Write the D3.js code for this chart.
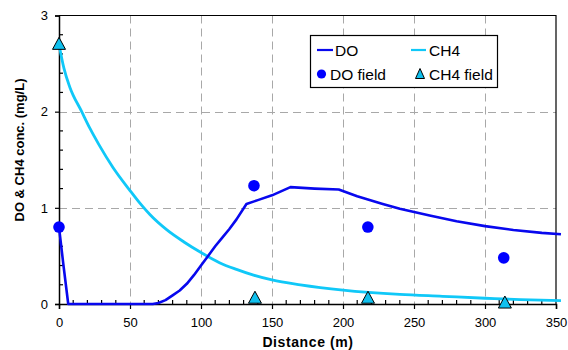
<!DOCTYPE html>
<html><head><meta charset="utf-8">
<script src="https://cdn.jsdelivr.net/npm/d3@7"></script>
<style>
html,body{margin:0;padding:0;background:#fff;}
svg{display:block;font-family:"Liberation Sans",Arial,sans-serif;}
</style></head>
<body>
<svg id="chart" width="568" height="350"></svg>
<script>
// ---- data ----
const doDist  = [0, 3, 6.5, 20, 40, 60, 66, 70, 75, 80, 85, 90, 95, 100, 105, 110, 115, 120, 125, 132, 140, 150, 163, 180, 197, 210, 228, 240, 261, 280, 300, 320, 340, 353.5];
const doConc  = [0.8, 0.42, 0, 0, 0, 0, 0, 0.01, 0.04, 0.09, 0.14, 0.21, 0.3, 0.4, 0.5, 0.6, 0.69, 0.78, 0.88, 1.04, 1.08, 1.13, 1.215, 1.2, 1.19, 1.12, 1.04, 0.99, 0.92, 0.86, 0.81, 0.77, 0.74, 0.725];
const ch4Dist = [0, 3.5, 7.5, 16, 22, 28, 38, 50, 58, 64, 76, 88, 100, 113, 125, 137, 150, 170, 200, 240, 270, 300, 325, 353.5];
const ch4Conc = [2.7, 2.45, 2.26, 2.0, 1.82, 1.66, 1.42, 1.18, 1.03, 0.93, 0.77, 0.645, 0.535, 0.43, 0.36, 0.3, 0.25, 0.2, 0.145, 0.1, 0.08, 0.06, 0.045, 0.035];
const doFieldDist  = [0, 137.3, 217.5, 313.2];
const doFieldConc  = [0.8, 1.23, 0.8, 0.48];
const ch4FieldDist = [0, 138, 217.6, 314];
const ch4FieldConc = [2.7, 0.06, 0.06, 0.01];
const xTicks = [0, 50, 100, 150, 200, 250, 300, 350];
const yTicks = [0, 1, 2, 3];
const legendLabels = ["DO", "CH4", "DO field", "CH4 field"];

const doColor = "#0808ee", ch4Color = "#10c8f8", triFill = "#10c0ee";

const svg = d3.select("#chart");
const x = d3.scaleLinear().domain([0, 350]).range([59, 556]);
const y = d3.scaleLinear().domain([0, 3]).range([304, 15.5]);

// gridlines
const grid = svg.append("g").attr("stroke", "#a8a8a8").attr("stroke-width", 1).attr("stroke-dasharray", "8,5");
grid.selectAll(".vx").data(xTicks.filter(v => v > 0 && v < 350)).join("line")
  .attr("x1", d => Math.round(x(d)) + 0.5).attr("x2", d => Math.round(x(d)) + 0.5)
  .attr("y1", y(3)).attr("y2", y(0));
grid.selectAll(".hy").data(yTicks.filter(v => v > 0 && v < 3)).join("line")
  .attr("y1", d => Math.round(y(d)) + 0.5).attr("y2", d => Math.round(y(d)) + 0.5)
  .attr("x1", x(0)).attr("x2", x(350));

// frame top & right
svg.append("path").attr("fill", "none").attr("stroke", "#000").attr("stroke-width", 1.2)
  .attr("d", `M${x(0)},${y(3)}H${x(350)}V${y(0)}`);

// axes
const xAxis = d3.axisBottom(x).tickValues(xTicks).tickSize(5).tickPadding(9).tickFormat(d3.format("d"));
const gx = svg.append("g").attr("transform", `translate(0,${y(0)})`).call(xAxis);
const yAxis = d3.axisLeft(y).tickValues(yTicks).tickSize(4).tickPadding(7).tickFormat(d3.format("d"));
const gy = svg.append("g").attr("transform", `translate(${x(0)},0)`).call(yAxis);
[gx, gy].forEach(g => {
  g.select(".domain").attr("stroke", "#000").attr("stroke-width", 1.5);
  g.selectAll(".tick line").attr("stroke", "#000").attr("stroke-width", 1.2);
  g.selectAll(".tick text").attr("font-size", 13).attr("fill", "#000").attr("font-family", '"Liberation Sans",Arial,sans-serif');
});
// minor ticks (inside)
const xMinor = d3.range(10, 351, 10).filter(v => v % 50 !== 0);
svg.append("g").selectAll("line").data(xMinor).join("line")
  .attr("x1", d => x(d)).attr("x2", d => x(d)).attr("y1", y(0)).attr("y2", y(0) - 4)
  .attr("stroke", "#000").attr("stroke-width", 1.2);
const yMinor = d3.range(0.2, 3, 0.2).filter(v => Math.abs(v - Math.round(v)) > 0.01);
svg.append("g").selectAll("line").data(yMinor).join("line")
  .attr("y1", d => y(d)).attr("y2", d => y(d)).attr("x1", x(0)).attr("x2", x(0) + 4)
  .attr("stroke", "#000").attr("stroke-width", 1.2);

// axis titles
svg.append("text").attr("x", 308).attr("y", 347).attr("text-anchor", "middle")
  .attr("font-size", 14).attr("font-weight", "bold").attr("letter-spacing", 0.6).text("Distance (m)");
svg.append("text").attr("transform", "translate(24,150) rotate(-90)").attr("text-anchor", "middle")
  .attr("font-size", 13).attr("font-weight", "bold").text("DO & CH4 conc. (mg/L)");

// lines
const ch4Line = d3.line().x(d => x(d[0])).y(d => y(d[1])).curve(d3.curveMonotoneX);
const doLine = d3.line().x(d => x(d[0])).y(d => y(d[1])).curve(d3.curveLinear);
svg.append("path").datum(d3.zip(ch4Dist, ch4Conc)).attr("d", ch4Line)
  .attr("fill", "none").attr("stroke", ch4Color).attr("stroke-width", 2.8).attr("stroke-linejoin", "round");
svg.append("path").datum(d3.zip(doDist, doConc)).attr("d", doLine)
  .attr("fill", "none").attr("stroke", doColor).attr("stroke-width", 2.6).attr("stroke-linejoin", "round");

// markers
svg.append("g").selectAll("circle").data(d3.zip(doFieldDist, doFieldConc)).join("circle")
  .attr("cx", d => x(d[0])).attr("cy", d => y(d[1])).attr("r", 5.8).attr("fill", "#0000ff");
const tri = (cx, cy) => `M${cx},${cy - 7}L${cx + 6.5},${cy + 5}L${cx - 6.5},${cy + 5}Z`;
svg.append("g").selectAll("path").data(d3.zip(ch4FieldDist, ch4FieldConc)).join("path")
  .attr("d", d => tri(x(d[0]), y(d[1]))).attr("fill", triFill).attr("stroke", "#000").attr("stroke-width", 1);

// legend
const lg = svg.append("g");
lg.append("rect").attr("x", 310.5).attr("y", 35.5).attr("width", 187).attr("height", 52)
  .attr("fill", "#fff").attr("stroke", "#000").attr("stroke-width", 1.2);
lg.append("line").attr("x1", 317).attr("x2", 333).attr("y1", 50).attr("y2", 50).attr("stroke", doColor).attr("stroke-width", 2.2);
lg.append("line").attr("x1", 411).attr("x2", 426).attr("y1", 50).attr("y2", 50).attr("stroke", ch4Color).attr("stroke-width", 2.2);
lg.append("circle").attr("cx", 321.5).attr("cy", 74).attr("r", 4.6).attr("fill", "#0000ff");
lg.append("path").attr("d", `M420,68.5L424.5,78.5L415.5,78.5Z`).attr("fill", triFill).attr("stroke", "#000").attr("stroke-width", 1);
const lpos = [[335, 50], [429, 50], [330, 74], [429, 74]];
lg.selectAll("text").data(legendLabels).join("text")
  .attr("x", (d, i) => lpos[i][0]).attr("y", (d, i) => lpos[i][1]).attr("dy", "0.36em")
  .attr("font-size", 15.5).attr("fill", "#000").text(d => d);
</script>
</body></html>
